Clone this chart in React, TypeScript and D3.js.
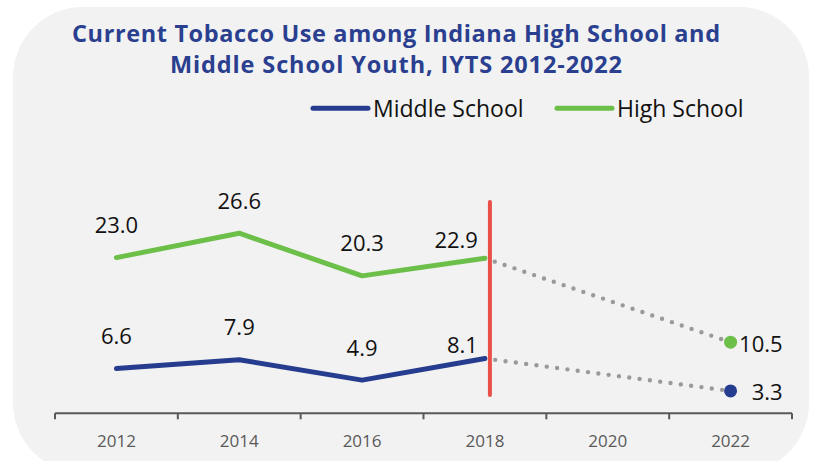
import React from "react";
import * as d3 from "d3";

const years = ["2012", "2014", "2016", "2018", "2020", "2022"];
const middleSchool = [
  { year: "2012", value: 6.6 },
  { year: "2014", value: 7.9 },
  { year: "2016", value: 4.9 },
  { year: "2018", value: 8.1 },
];
const highSchool = [
  { year: "2012", value: 23.0 },
  { year: "2014", value: 26.6 },
  { year: "2016", value: 20.3 },
  { year: "2018", value: 22.9 },
];
const middleSchool2022 = { year: "2022", value: 3.3 };
const highSchool2022 = { year: "2022", value: 10.5 };
const titleLines = [
  "Current Tobacco Use among Indiana High School and",
  "Middle School Youth, IYTS 2012-2022",
];
const legendLabels = ["Middle School", "High School"];

const W = 817;
const H = 461;
const BLUE = "#263d8f";
const GREEN = "#6cc04a";
const RED = "#ea5048";
const GRAY_DOT = "#9a9a9a";
const AXIS = "#595959";
const FONT = "'Open Sans', sans-serif";
const TITLE_WIDTHS = [648, 452];

export default function App() {
  const x = d3.scaleBand<string>().domain(years).range([55, 792]);
  const y = d3.scaleLinear().domain([0, 30]).range([413.3, 210.2]);
  const cx = (yr: string) => (x(yr) ?? 0) + x.bandwidth() / 2;
  const line = d3
    .line<{ year: string; value: number }>()
    .x((d) => cx(d.year))
    .y((d) => y(d.value));

  const series = [
    { data: middleSchool, end: middleSchool2022, color: BLUE, lastDy: -5 },
    { data: highSchool, end: highSchool2022, color: GREEN, lastDy: -10 },
  ];
  const ticks = d3.range(years.length + 1).map((i) => 55 + i * x.bandwidth());
  const last = years.indexOf("2018");

  return (
    <svg
      width={W}
      height={H}
      style={{ position: "absolute", left: 0, top: 0, display: "block" }}
    >
      <rect x={0} y={0} width={W} height={H} fill="#ffffff" />
      <rect x={13} y={7} width={796} height={466} rx={70} ry={70} fill="#f2f2f2" />

      {titleLines.map((t, i) => (
        <text
          key={t}
          x={396 - TITLE_WIDTHS[i] / 2}
          y={42 + i * 30.5}
          textLength={TITLE_WIDTHS[i]}
          lengthAdjust="spacing"
          fontFamily="'Open Sans', sans-serif"
          fontWeight={700}
          fontSize={23.5}
          fill="#2a3f8f"
        >
          {t}
        </text>
      ))}

      {legendLabels.map((lab, i) => {
        const x0 = i === 0 ? 313 : 557;
        return (
          <g key={lab}>
            <line
              x1={x0}
              x2={x0 + 55}
              y1={108.3}
              y2={108.3}
              stroke={i === 0 ? BLUE : GREEN}
              strokeWidth={5}
              strokeLinecap="round"
            />
            <text x={x0 + 60} y={116.7} fontFamily={FONT} fontSize={23} fill="#111">
              {lab}
            </text>
          </g>
        );
      })}

      {/* x axis */}
      <line x1={55} x2={792} y1={y(0)} y2={y(0)} stroke={AXIS} strokeWidth={2} />
      {ticks.map((t, i) => (
        <line key={i} x1={t} x2={t} y1={y(0)} y2={y(0) + 6} stroke={AXIS} strokeWidth={2} />
      ))}
      {years.map((yr) => (
        <text
          key={yr}
          x={cx(yr)}
          y={446.5}
          textAnchor="middle"
          fontFamily={FONT}
          fontSize={17}
          fill={AXIS}
        >
          {yr}
        </text>
      ))}

      {series.map((s, si) => (
        <g key={si}>
          <path
            d={line([s.data[s.data.length - 1], s.end]) ?? ""}
            fill="none"
            stroke={GRAY_DOT}
            strokeWidth={4.4}
            strokeLinecap="round"
            strokeDasharray="0 10.4"
          />
          <path
            d={line(s.data) ?? ""}
            fill="none"
            stroke={s.color}
            strokeWidth={5}
            strokeLinecap="round"
            strokeLinejoin="round"
          />
          {s.data.map((d, i) =>
            i === last ? (
              <text
                key={d.year}
                x={cx(d.year) - 7}
                y={y(d.value) + s.lastDy}
                textAnchor="end"
                fontFamily={FONT}
                fontSize={22}
                fill="#111"
              >
                {d.value.toFixed(1)}
              </text>
            ) : (
              <text
                key={d.year}
                x={cx(d.year)}
                y={y(d.value) - 24.5}
                textAnchor="middle"
                fontFamily={FONT}
                fontSize={22}
                fill="#111"
              >
                {d.value.toFixed(1)}
              </text>
            )
          )}
          <circle cx={cx(s.end.year)} cy={y(s.end.value)} r={6.5} fill={s.color} />
          <text
            x={cx(s.end.year) + 52}
            y={y(s.end.value) + 9.5}
            textAnchor="end"
            fontFamily={FONT}
            fontSize={22}
            fill="#111"
          >
            {s.end.value.toFixed(1)}
          </text>
        </g>
      ))}

      {/* 2018 divider */}
      <line
        x1={cx("2018") + 5}
        x2={cx("2018") + 5}
        y1={y(31.2)}
        y2={y(2.7)}
        stroke={RED}
        strokeWidth={4}
        strokeLinecap="round"
      />
    </svg>
  );
}
